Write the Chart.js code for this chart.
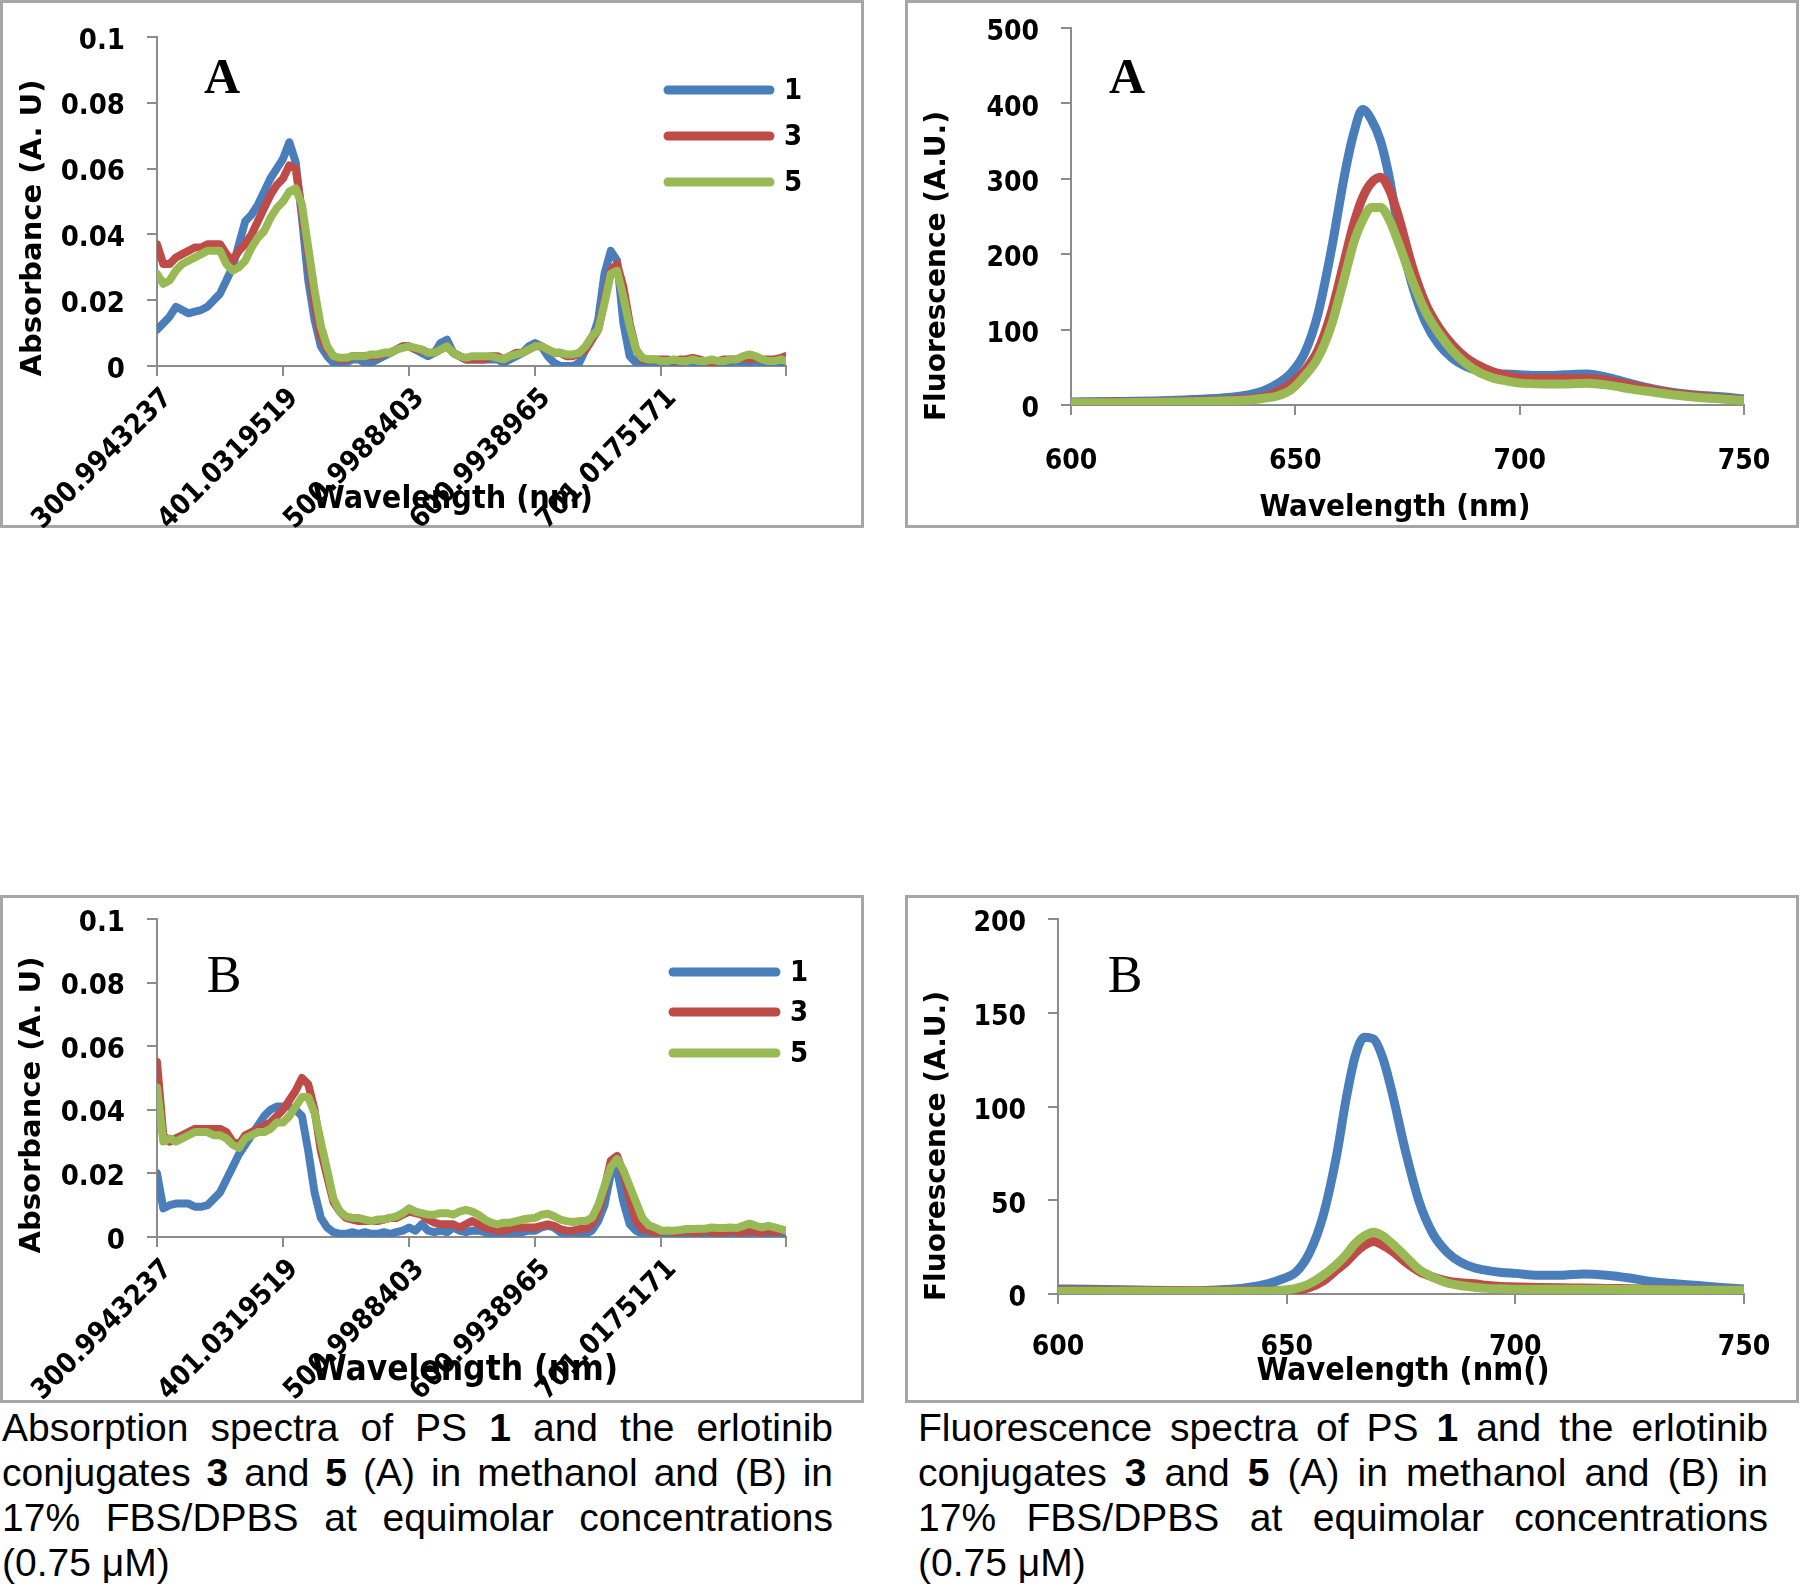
<!DOCTYPE html>
<html lang="en">
<head>
<meta charset="UTF-8">
<title>Absorption and fluorescence spectra</title>
<style>
  body { margin: 0; background: #fff; width: 1800px; height: 1587px; position: relative; overflow: hidden; }
  .panel { position: absolute; border: 3px solid #a6a6a6; box-sizing: border-box; }
  .panel canvas { position: absolute; left: -3px; top: -3px; }
  .caption { position: absolute; top: 1405px; font-family: 'Liberation Sans', Arial, sans-serif; font-size: 39px; line-height: 45px; color: #000; }
  .caption div { text-align: justify; text-align-last: justify; }
  .caption div.last { text-align: left; text-align-last: left; }
</style>
</head>
<body>

<div class="panel" style="left:0;top:0;width:864px;height:528px"><canvas id="absA" width="864" height="528"></canvas></div>
<div class="panel" style="left:905px;top:0;width:894px;height:528px"><canvas id="flA" width="894" height="528"></canvas></div>
<div class="panel" style="left:0;top:895px;width:864px;height:508px"><canvas id="absB" width="864" height="508"></canvas></div>
<div class="panel" style="left:905px;top:895px;width:894px;height:508px"><canvas id="flB" width="894" height="508"></canvas></div>

<div class="caption" style="left:2px;width:831px">
  <div>Absorption spectra of PS <b>1</b> and the erlotinib</div>
  <div>conjugates <b>3</b> and <b>5</b> (A) in methanol and (B) in</div>
  <div>17% FBS/DPBS at equimolar concentrations</div>
  <div class="last">(0.75 &mu;M)</div>
</div>
<div class="caption" style="left:918px;width:850px">
  <div>Fluorescence spectra of PS <b>1</b> and the erlotinib</div>
  <div>conjugates <b>3</b> and <b>5</b> (A) in methanol and (B) in</div>
  <div>17% FBS/DPBS at equimolar concentrations</div>
  <div class="last">(0.75 &mu;M)</div>
</div>

<script src="https://cdn.jsdelivr.net/npm/chart.js"></script>
<script>
// series 1, 3, 5
const seriesNames = ['1', '3', '5'];
const seriesColors = ['#4a7ebb', '#be4b48', '#98b954'];

// absorption: wavelength (nm) every 5 nm
const absWavelength = [
  301, 306, 311, 316, 321, 326, 331, 336, 341, 346,
  351, 356, 361, 366, 371, 376, 381, 386, 391, 396,
  401, 406, 411, 416, 421, 426, 431, 436, 441, 446,
  451, 456, 461, 466, 471, 476, 481, 486, 491, 496,
  501, 506, 511, 516, 521, 526, 531, 536, 541, 546,
  551, 556, 561, 566, 571, 576, 581, 586, 591, 596,
  601, 606, 611, 616, 621, 626, 631, 636, 641, 646,
  651, 656, 661, 666, 671, 676, 681, 686, 691, 696,
  701, 706, 711, 716, 721, 726, 731, 736, 741, 746,
  751, 756, 761, 766, 771, 776, 781, 786, 791, 796,
  800
];
const absTickValues = [301, 401, 501, 601, 701, 800];
const absTickLabels = ['300.9943237', '401.0319519', '500.9988403', '600.9938965', '701.0175171', ''];

// (A) methanol
const absA_1 = [
  0.011, 0.013, 0.015, 0.018, 0.017, 0.016, 0.0165, 0.017, 0.018, 0.020,
  0.022, 0.026, 0.030, 0.037, 0.044, 0.046, 0.049, 0.053, 0.057, 0.060,
  0.063, 0.068, 0.062, 0.045, 0.026, 0.014, 0.006, 0.003, 0.001, 0.001,
  0.001, 0.002, 0.002, 0.001, 0.001, 0.002, 0.003, 0.004, 0.005, 0.006,
  0.006, 0.005, 0.004, 0.003, 0.004, 0.007, 0.008, 0.004, 0.003, 0.002,
  0.002, 0.002, 0.002, 0.002, 0.002, 0.001, 0.002, 0.003, 0.004, 0.006,
  0.007, 0.006, 0.003, 0.001, 0.000, 0.000, 0.000, 0.001, 0.005, 0.008,
  0.014, 0.028, 0.035, 0.032, 0.013, 0.003, 0.001, 0.000, 0.001, 0.001,
  0.001, 0.0015, 0.001, 0.001, 0.0015, 0.001, 0.001, 0.0015, 0.001, 0.001,
  0.001, 0.001, 0.0015, 0.001, 0.001, 0.0015, 0.001, 0.001, 0.001, 0.001,
  0.0015
];
const absA_3 = [
  0.037, 0.031, 0.031, 0.033, 0.034, 0.035, 0.036, 0.036, 0.037, 0.037,
  0.037, 0.034, 0.032, 0.035, 0.037, 0.040, 0.044, 0.048, 0.052, 0.055,
  0.057, 0.061, 0.060, 0.047, 0.034, 0.019, 0.009, 0.005, 0.003, 0.002,
  0.002, 0.003, 0.003, 0.003, 0.003, 0.003, 0.004, 0.004, 0.005, 0.006,
  0.006, 0.005, 0.005, 0.004, 0.004, 0.005, 0.006, 0.004, 0.003, 0.002,
  0.002, 0.002, 0.002, 0.003, 0.003, 0.002, 0.003, 0.004, 0.004, 0.005,
  0.006, 0.006, 0.005, 0.004, 0.004, 0.003, 0.003, 0.004, 0.005, 0.008,
  0.011, 0.020, 0.029, 0.031, 0.024, 0.013, 0.005, 0.002, 0.002, 0.002,
  0.002, 0.002, 0.0015, 0.002, 0.002, 0.0025, 0.002, 0.0015, 0.001, 0.0015,
  0.002, 0.002, 0.002, 0.0025, 0.002, 0.0025, 0.002, 0.002, 0.002, 0.0025,
  0.003
];
const absA_5 = [
  0.028, 0.025, 0.026, 0.029, 0.031, 0.032, 0.033, 0.034, 0.035, 0.035,
  0.035, 0.031, 0.029, 0.030, 0.032, 0.036, 0.039, 0.041, 0.045, 0.048,
  0.050, 0.053, 0.054, 0.049, 0.036, 0.023, 0.012, 0.006, 0.003, 0.0025,
  0.0025, 0.003, 0.003, 0.003, 0.0035, 0.0035, 0.004, 0.004, 0.005, 0.0055,
  0.006, 0.0055, 0.005, 0.004, 0.004, 0.005, 0.006, 0.004, 0.003, 0.0025,
  0.003, 0.003, 0.003, 0.003, 0.0025, 0.002, 0.003, 0.0035, 0.004, 0.005,
  0.006, 0.006, 0.005, 0.004, 0.004, 0.0035, 0.0035, 0.004, 0.006, 0.009,
  0.011, 0.019, 0.028, 0.029, 0.021, 0.012, 0.005, 0.0025, 0.002, 0.002,
  0.0015, 0.0015, 0.002, 0.0015, 0.0015, 0.002, 0.0015, 0.0015, 0.002, 0.0015,
  0.0015, 0.002, 0.002, 0.003, 0.0035, 0.003, 0.002, 0.0015, 0.0015, 0.002,
  0.0015
];

// (B) 17% FBS/DPBS
const absB_1 = [
  0.020, 0.009, 0.010, 0.0105, 0.0105, 0.0105, 0.0095, 0.0095, 0.010, 0.012,
  0.014, 0.018, 0.022, 0.026, 0.029, 0.032, 0.035, 0.038, 0.040, 0.041,
  0.041, 0.041, 0.040, 0.038, 0.027, 0.014, 0.006, 0.003, 0.0015, 0.001,
  0.001, 0.0015, 0.001, 0.0015, 0.001, 0.001, 0.0015, 0.001, 0.0015, 0.002,
  0.003, 0.002, 0.004, 0.002, 0.0015, 0.002, 0.0015, 0.003, 0.002, 0.0015,
  0.002, 0.002, 0.0015, 0.001, 0.001, 0.001, 0.001, 0.001, 0.0015, 0.002,
  0.002, 0.003, 0.0035, 0.003, 0.0015, 0.001, 0.0015, 0.001, 0.001, 0.002,
  0.005, 0.010, 0.020, 0.021, 0.011, 0.004, 0.002, 0.001, 0.001, 0.001,
  0.001, 0.001, 0.001, 0.0015, 0.001, 0.001, 0.001, 0.001, 0.001, 0.001,
  0.001, 0.001, 0.001, 0.001, 0.001, 0.0015, 0.001, 0.001, 0.001, 0.001,
  0.001
];
const absB_3 = [
  0.055, 0.032, 0.030, 0.031, 0.032, 0.033, 0.034, 0.034, 0.034, 0.034,
  0.034, 0.033, 0.030, 0.029, 0.032, 0.033, 0.034, 0.035, 0.036, 0.038,
  0.040, 0.043, 0.046, 0.050, 0.048, 0.040, 0.027, 0.019, 0.011, 0.008,
  0.006, 0.0055, 0.005, 0.005, 0.005, 0.005, 0.0055, 0.006, 0.006, 0.007,
  0.008, 0.0075, 0.007, 0.0055, 0.0045, 0.004, 0.004, 0.004, 0.003, 0.004,
  0.005, 0.004, 0.003, 0.0025, 0.002, 0.002, 0.0025, 0.003, 0.003, 0.003,
  0.003, 0.0035, 0.004, 0.0035, 0.0025, 0.002, 0.002, 0.0025, 0.0025, 0.004,
  0.008, 0.015, 0.024, 0.0255, 0.020, 0.012, 0.005, 0.0025, 0.002, 0.0015,
  0.0015, 0.002, 0.0015, 0.0015, 0.002, 0.0015, 0.0015, 0.002, 0.0015, 0.0015,
  0.0015, 0.002, 0.0015, 0.0015, 0.002, 0.0015, 0.0015, 0.002, 0.0015, 0.002,
  0.002
];
const absB_5 = [
  0.047, 0.030, 0.031, 0.030, 0.031, 0.032, 0.033, 0.033, 0.033, 0.032,
  0.032, 0.031, 0.029, 0.028, 0.031, 0.032, 0.033, 0.033, 0.034, 0.036,
  0.036, 0.038, 0.041, 0.044, 0.044, 0.039, 0.030, 0.021, 0.012, 0.008,
  0.0065, 0.006, 0.006, 0.0055, 0.005, 0.0055, 0.0055, 0.006, 0.0065, 0.0075,
  0.009, 0.008, 0.0075, 0.007, 0.007, 0.0075, 0.0075, 0.007, 0.008, 0.0085,
  0.008, 0.007, 0.0055, 0.0045, 0.004, 0.0045, 0.0045, 0.005, 0.0055, 0.0058,
  0.006, 0.007, 0.0073, 0.0065, 0.0055, 0.005, 0.0047, 0.005, 0.005, 0.006,
  0.010, 0.016, 0.022, 0.0245, 0.021, 0.016, 0.011, 0.006, 0.0037, 0.003,
  0.002, 0.002, 0.002, 0.0022, 0.0025, 0.0025, 0.0026, 0.0026, 0.003, 0.0028,
  0.0028, 0.003, 0.0028, 0.0035, 0.0042, 0.0035, 0.003, 0.0035, 0.003, 0.0025,
  0.002
];

// fluorescence: wavelength (nm), denser round the peak
const flWavelength = [
  600, 610, 620, 630, 635, 640, 643, 646, 649, 652, 655, 658, 661,
  663, 665, 667, 669, 671, 673,
  676, 679, 682, 685, 688, 691, 694, 697, 700,
  705, 710, 715, 720, 725, 730, 735, 740, 745, 750
];
const flA_1 = [
  4, 4.5, 5.5, 8, 10, 14, 19, 28, 42, 68, 120, 205, 306,
  360, 392, 378, 350, 300, 232,
  160, 110, 80, 62, 51, 45, 42, 41, 40,
  39, 40, 41, 36, 28, 21, 16, 13, 11, 8
];
const flA_3 = [
  3, 3.5, 4, 5.5, 6.5, 8.5, 11, 17, 28, 45, 72, 122, 193,
  240, 275, 295, 302, 285, 250,
  185, 135, 103, 80, 63, 52, 44, 39, 36,
  35, 35, 35, 32, 26, 20, 15, 12, 9, 7
];
const flA_5 = [
  3, 3, 3.5, 4.5, 5.5, 7, 9, 12, 20, 38, 62, 105, 170,
  215, 245, 262, 262, 245, 215,
  166, 124, 95, 72, 55, 43, 36, 32, 29,
  28, 28, 29, 26, 21, 17, 13, 10, 8, 6
];
const flB_1 = [
  2.7, 2.4, 2.0, 1.8, 2.2, 3.0, 4, 5.5, 8, 11.6, 22, 42, 75,
  104, 127, 137, 136, 126, 108,
  76, 49, 32, 22.5, 17, 14, 12.5, 11.5, 11,
  10, 10, 10.7, 10, 8.5, 6.5, 5.5, 4.5, 3.5, 2.7
];
const flB_3 = [
  2, 2, 1.8, 1.8, 1.8, 1.8, 1.8, 1.8, 1.8, 2, 3.5, 7, 13,
  17, 22, 26, 28, 26, 23,
  17, 12, 9, 7, 6, 5.5, 4.5, 4, 3.8,
  3.5, 3.3, 3.2, 3, 2.8, 2.6, 2.4, 2.2, 2, 2
];
const flB_5 = [
  1.5, 1.5, 1.5, 1.5, 1.5, 1.5, 1.5, 1.5, 2, 3, 5.5, 10, 16,
  21, 27, 31, 33, 31, 27,
  20, 13, 9, 6, 4.5, 3.6, 3, 2.8, 2.6,
  2.5, 2.5, 2.5, 2.5, 2.4, 2.3, 2.2, 2, 2, 2
];

const axisGray = '#8c8c8c';
const narrowFont = "'DejaVu Sans Condensed', 'DejaVu Sans'";
const wideFont = "'DejaVu Sans'";

Chart.defaults.font.family = narrowFont;
Chart.defaults.color = '#000';

// letters, axis titles and the legend, drawn where the original figure had them
const panelDecor = {
  id: 'panelDecor',
  afterDraw(chart, args, o) {
    const ctx = chart.ctx;
    ctx.save();
    ctx.fillStyle = '#000';
    ctx.textAlign = 'center';
    ctx.textBaseline = 'middle';

    ctx.font = o.letterFont;
    ctx.fillText(o.letter, o.letterX, o.letterY);

    ctx.font = 'bold ' + o.xTitleSize + 'px ' + narrowFont;
    ctx.fillText(o.xTitle, o.xTitleX, o.xTitleY);

    ctx.save();
    ctx.translate(o.yTitleX, o.yTitleY);
    ctx.rotate(-Math.PI / 2);
    ctx.font = 'bold ' + o.yTitleSize + 'px ' + wideFont;
    ctx.fillText(o.yTitle, 0, 0);
    ctx.restore();

    if (o.legend) {
      const lg = o.legend;
      ctx.lineCap = 'round';
      ctx.lineWidth = 9;
      ctx.textAlign = 'left';
      ctx.font = 'bold 29px ' + narrowFont;
      chart.data.datasets.forEach((ds, i) => {
        ctx.strokeStyle = ds.borderColor;
        ctx.beginPath();
        ctx.moveTo(lg.x1, lg.ys[i]);
        ctx.lineTo(lg.x2, lg.ys[i]);
        ctx.stroke();
        ctx.fillText(ds.label, lg.textX, lg.ys[i] + 1);
      });
    }
    ctx.restore();
  }
};

function makeDatasets(series, width, smooth) {
  return series.map((s, i) => ({
    label: seriesNames[i],
    data: s,
    borderColor: seriesColors[i],
    backgroundColor: seriesColors[i],
    borderWidth: width,
    pointRadius: 0,
    borderCapStyle: 'round',
    borderJoinStyle: 'round',
    tension: smooth ? 0.4 : 0,
    cubicInterpolationMode: smooth ? 'monotone' : 'default',
    order: 3 - i
  }));
}

function makeChart(id, area, labels, series, smooth, xScale, yScale, deco) {
  const canvas = document.getElementById(id);
  const W = canvas.width, H = canvas.height;
  // fixed axis boxes so the plot area lands where it is in the figure
  xScale.afterFit = s => { s.height = H - area.bottom; s.paddingLeft = 0; s.paddingRight = 0; };
  yScale.afterFit = s => { s.width = area.left; s.paddingTop = 0; s.paddingBottom = 0; };
  for (const sc of [xScale, yScale]) {
    sc.grid = { drawOnChartArea: false, drawTicks: true, tickLength: 10, color: axisGray, lineWidth: 2 };
    sc.border = { display: true, color: axisGray, width: 2 };
  }
  return new Chart(canvas, {
    type: 'line',
    data: { labels: labels, datasets: makeDatasets(series, smooth ? 9 : 8, smooth) },
    options: {
      responsive: false,
      animation: false,
      devicePixelRatio: 1,
      layout: { padding: { left: 0, top: area.top, right: W - area.right, bottom: 0 } },
      plugins: { legend: { display: false }, tooltip: { enabled: false }, panelDecor: deco },
      scales: { x: xScale, y: yScale }
    },
    plugins: [panelDecor]
  });
}

function absX() {
  return {
    type: 'linear', min: 301, max: 800,
    afterBuildTicks: s => { s.ticks = absTickValues.map(v => ({ value: v })); },
    ticks: {
      autoSkip: false, minRotation: 45, maxRotation: 45, padding: 6, labelOffset: 11, color: '#000',
      font: { size: 28, weight: 'bold' },
      callback: (v, i) => absTickLabels[i]
    }
  };
}
function absY() {
  return {
    type: 'linear', min: 0, max: 0.1,
    ticks: {
      stepSize: 0.02, padding: 22, labelOffset: 4, color: '#000', font: { size: 29, weight: 'bold' },
      callback: v => String(Math.round(v * 100) / 100)
    }
  };
}
function flX(pad) {
  return {
    type: 'linear', min: 600, max: 750,
    ticks: { stepSize: 50, padding: pad, maxRotation: 0, color: '#000', font: { size: 28, weight: 'bold' } }
  };
}
function flY(max, step) {
  return {
    type: 'linear', min: 0, max: max,
    ticks: { stepSize: step, padding: 22, labelOffset: 5, color: '#000', font: { size: 28, weight: 'bold' } }
  };
}

makeChart('absA', { left: 157, top: 37, right: 786, bottom: 366 },
  absWavelength, [absA_1, absA_3, absA_5], false, absX(), absY(), {
    letter: 'A', letterFont: 'bold 50px "Liberation Serif"', letterX: 222, letterY: 80,
    xTitle: 'Wavelength (nm)', xTitleSize: 32, xTitleX: 453, xTitleY: 500,
    yTitle: 'Absorbance (A. U)', yTitleSize: 29, yTitleX: 33, yTitleY: 228,
    legend: { x1: 668, x2: 770, textX: 784, ys: [90, 136, 182] }
  });

makeChart('flA', { left: 166, top: 28, right: 839, bottom: 405 },
  flWavelength, [flA_1, flA_3, flA_5], true, flX(30), flY(500, 100), {
    letter: 'A', letterFont: 'bold 50px "Liberation Serif"', letterX: 222, letterY: 80,
    xTitle: 'Wavelength (nm)', xTitleSize: 31, xTitleX: 490, xTitleY: 508,
    yTitle: 'Fluorescence (A.U.)', yTitleSize: 28, yTitleX: 33, yTitleY: 266,
    legend: null
  });

makeChart('absB', { left: 157, top: 24, right: 786, bottom: 342 },
  absWavelength, [absB_1, absB_3, absB_5], false, absX(), absY(), {
    letter: 'B', letterFont: '52px "Liberation Serif"', letterX: 224, letterY: 83,
    xTitle: 'Wavelength (nm)', xTitleSize: 35, xTitleX: 465, xTitleY: 476,
    yTitle: 'Absorbance (A. U)', yTitleSize: 29, yTitleX: 32, yTitleY: 210,
    legend: { x1: 673, x2: 776, textX: 790, ys: [77, 117, 158] }
  });

makeChart('flB', { left: 153, top: 24, right: 839, bottom: 399 },
  flWavelength, [flB_1, flB_3, flB_5], true, flX(27), flY(200, 50), {
    letter: 'B', letterFont: '52px "Liberation Serif"', letterX: 220, letterY: 83,
    xTitle: 'Wavelength (nm()', xTitleSize: 32, xTitleX: 498, xTitleY: 477,
    yTitle: 'Fluorescence (A.U.)', yTitleSize: 28, yTitleX: 33, yTitleY: 251,
    legend: null
  });
</script>
</body>
</html>
